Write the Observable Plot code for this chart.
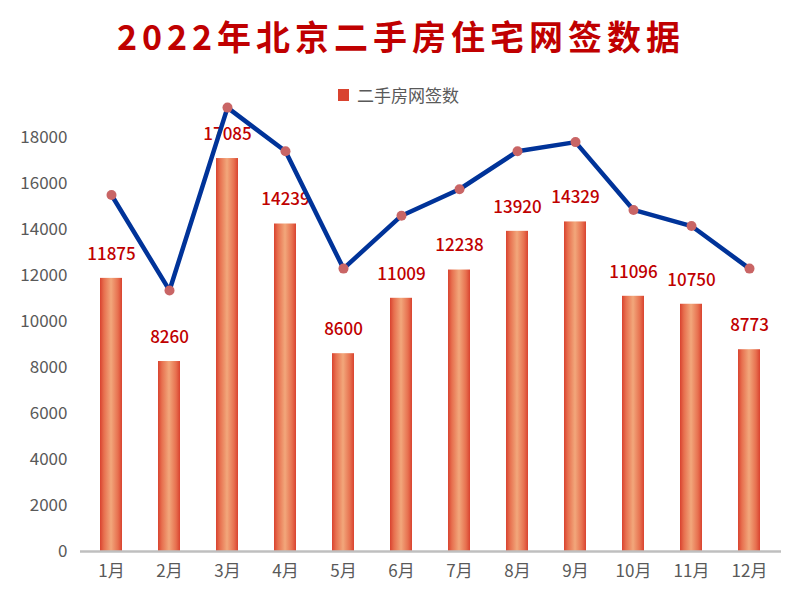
<!DOCTYPE html>
<html>
<head>
<meta charset="utf-8">
<script src="https://cdn.jsdelivr.net/npm/d3@7"></script>
<script src="https://cdn.jsdelivr.net/npm/@observablehq/plot@0.6"></script>
<style>
  body { margin: 0; background: #fff; }
  #wrap { position: relative; width: 802px; height: 602px; background: #fff; font-family: "Noto Sans CJK SC", "Noto Sans", sans-serif; }
  #title { position: absolute; left: 0; top: 14px; width: 802px; text-align: center; font-size: 34px; font-weight: bold; letter-spacing: 5px; color: #c00000; line-height: 44px; }
  #legend { position: absolute; left: 338px; top: 84px; font-size: 17px; color: #595959; line-height: 22px; display: flex; align-items: center; }
  #legend .sw { width: 11px; height: 12px; background: #d9432f; margin-right: 8px; }
  #chart { position: absolute; left: 0; top: 0; }
</style>
</head>
<body>
<div id="wrap">
  <div id="chart"></div>
  <div id="title">2022年北京二手房住宅网签数据</div>
  <div id="legend"><span class="sw"></span><span>二手房网签数</span></div>
</div>
<script>
const months = ["1月","2月","3月","4月","5月","6月","7月","8月","9月","10月","11月","12月"];
const signings = [11875, 8260, 17085, 14239, 8600, 11009, 12238, 13920, 14329, 11096, 10750, 8773];
const lineValues = [15500, 11350, 19300, 17400, 12300, 14600, 15750, 17400, 17800, 14850, 14150, 12300];
const yTicks = [0, 2000, 4000, 6000, 8000, 10000, 12000, 14000, 16000, 18000];

const data = months.map((m, i) => ({month: m, value: signings[i], line: lineValues[i]}));

const defs = () => {
  const d = d3.create("svg:defs");
  const g = d.append("linearGradient").attr("id", "barGrad").attr("x1", 0).attr("x2", 1).attr("y1", 0).attr("y2", 0);
  [["0%", "#d9432f"], ["18%", "#e7704f"], ["50%", "#f2a77b"], ["82%", "#e7704f"], ["100%", "#d9432f"]]
    .forEach(([o, c]) => g.append("stop").attr("offset", o).attr("stop-color", c));
  return d.node();
};

const chart = Plot.plot({
  width: 802,
  height: 602,
  marginLeft: 80,
  marginRight: 21,
  marginTop: 137,
  marginBottom: 51,
  style: {fontSize: "17px", fontFamily: "'Noto Sans CJK SC', 'Noto Sans', sans-serif", color: "#595959", background: "transparent", overflow: "visible"},
  x: {domain: months, paddingInner: 0.62, paddingOuter: 0.31, axis: null},
  y: {domain: [0, 18000], axis: null},
  marks: [
    defs,
    Plot.axisY({ticks: yTicks, tickSize: 0, tickPadding: 13, tickFormat: d => String(d), fontSize: 17, label: null}),
    Plot.axisX({tickSize: 0, tickPadding: 13, fontSize: 17, label: null}),
    Plot.barY(data, {x: "month", y: "value", fill: "url(#barGrad)"}),
    Plot.ruleY([0], {stroke: "#bfbfbf", strokeWidth: 2.5}),
    Plot.text(data, {x: "month", y: "value", text: d => String(d.value), dy: -24, fill: "#c00000", fontSize: 17, fontWeight: 500}),
    Plot.line(data, {x: "month", y: "line", stroke: "#003399", strokeWidth: 4.5}),
    Plot.dot(data, {x: "month", y: "line", r: 5, fill: "#c96565", stroke: "none"})
  ]
});
document.getElementById("chart").appendChild(chart);
</script>
</body>
</html>
